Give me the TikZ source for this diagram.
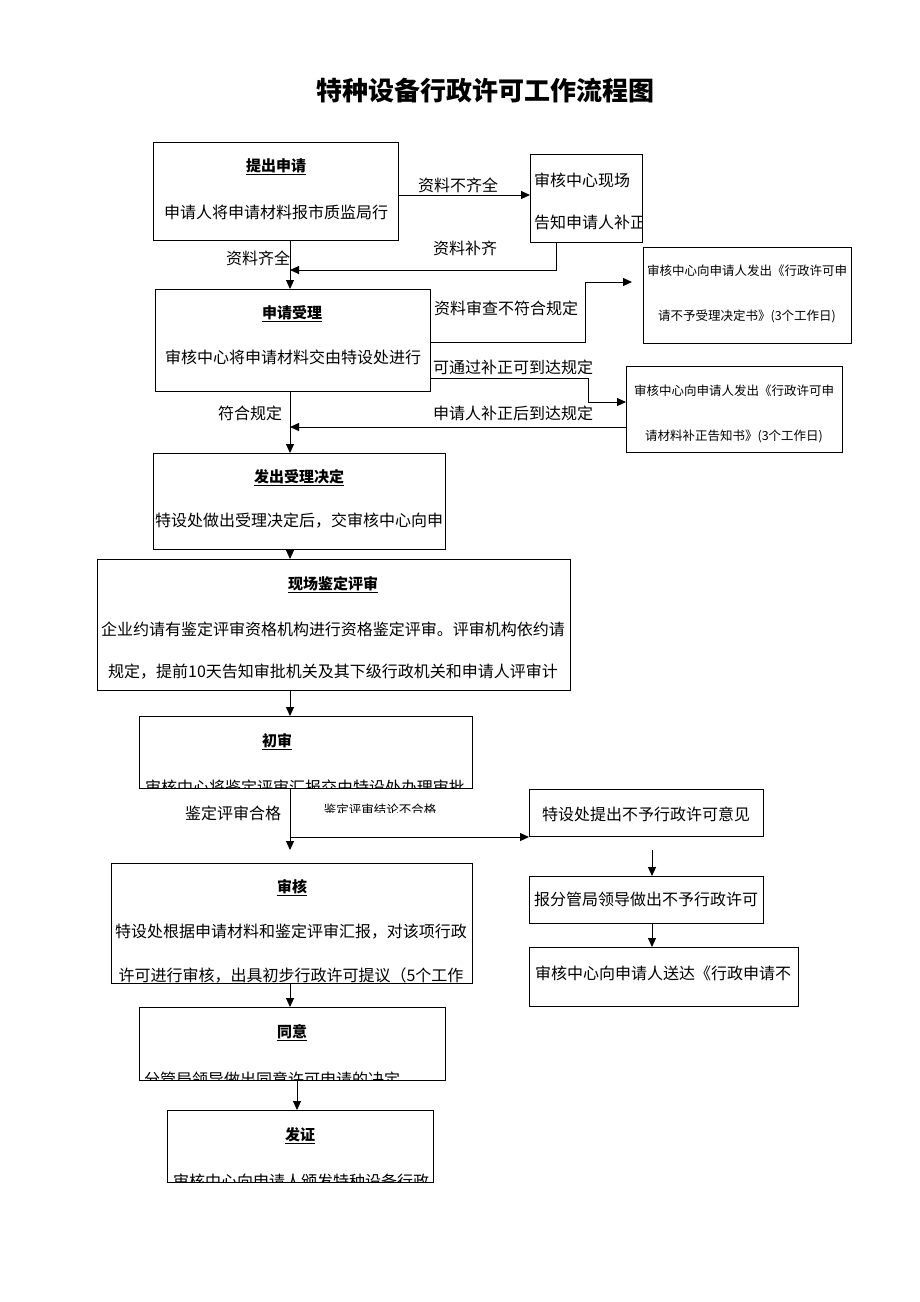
\documentclass[tikz,border=0pt]{standalone}
\usepackage{fontspec}
\setmainfont{Liberation Serif}
\newfontfamily\cjk{Noto Sans CJK SC}
\usetikzlibrary{arrows.meta}
\begin{document}
\begin{tikzpicture}[x=1pt,y=-1pt,
  box/.style={draw,line width=0.9pt},
  t/.style={font=\cjk\fontsize{16}{16}\selectfont,inner sep=0},
  s/.style={font=\cjk\fontsize{12.5}{13}\selectfont,inner sep=0},
  hd/.style={font=\cjk\fontsize{15}{15}\selectfont\bfseries,inner sep=0},
  ar/.style={line width=0.9pt,-{Triangle[length=9pt,width=8pt]}}]
\useasboundingbox (0,0) rectangle (920,1302);
\node[font=\cjk\fontsize{26}{26}\selectfont\bfseries] (title) at (485,91) {特种设备行政许可工作流程图};
\draw[box] (153,142) rectangle (398,240);
\node[hd] (b1h) at (276,167) {\underline{提出申请}};
\node[t] (b1t) at (276,212) {申请人将申请材料报市质监局行};
\draw[box] (530,154) rectangle (642,242);
\begin{scope}\clip (530,154) rectangle (642,242);
\node[t,anchor=west] (b2a) at (534,180) {审核中心现场};
\node[t,anchor=west] (b2b) at (534,222) {告知申请人补正};
\end{scope}
\draw[box] (155,289) rectangle (430,391);
\node[hd] (b3h) at (292,314) {\underline{申请受理}};
\node[t] (b3t) at (293,357) {审核中心将申请材料交由特设处进行};
\draw[box] (643,247) rectangle (851,343);
\node[s] (b4a) at (747,271) {审核中心向申请人发出《行政许可申};
\node[s] (b4b) at (747,316) {请不予受理决定书》(3个工作日)};
\draw[box] (626,366) rectangle (842,452);
\node[s] (b5a) at (734,391) {审核中心向申请人发出《行政许可申};
\node[s] (b5b) at (734,436) {请材料补正告知书》(3个工作日)};
\draw[box] (153,453) rectangle (445,549);
\node[hd] (b6h) at (299,478) {\underline{发出受理决定}};
\node[t] (b6t) at (299,521) {特设处做出受理决定后，交审核中心向申};
\draw[box] (97,559) rectangle (570,690);
\node[hd] (b7h) at (333,585) {\underline{现场鉴定评审}};
\node[t] (b7a) at (333,629) {企业约请有鉴定评审资格机构进行资格鉴定评审。评审机构依约请};
\node[t] (b7b) at (333,672) {规定，提前10天告知审批机关及其下级行政机关和申请人评审计};
\draw[box] (139,716) rectangle (472,788);
\node[hd] (b8h) at (277,742) {\underline{初审}};
\begin{scope}\clip (139,716) rectangle (472,788);
\node[t] (b8t) at (305,787) {审核中心将鉴定评审汇报交由特设处办理审批};
\end{scope}
\draw[box] (111,863) rectangle (472,983);
\node[hd] (b9h) at (292,888) {\underline{审核}};
\node[t] (b9a) at (291,932) {特设处根据申请材料和鉴定评审汇报，对该项行政};
\node[t] (b9b) at (291,975) {许可进行审核，出具初步行政许可提议（5个工作};
\draw[box] (139,1007) rectangle (445,1080);
\node[hd] (b10h) at (292,1033) {\underline{同意}};
\begin{scope}\clip (139,1007) rectangle (445,1080);
\node[t] (b10t) at (272,1079) {分管局领导做出同意许可申请的决定};
\end{scope}
\draw[box] (167,1110) rectangle (433,1182);
\node[hd] (b11h) at (300,1136) {\underline{发证}};
\begin{scope}\clip (167,1110) rectangle (433,1182);
\node[t] (b11t) at (301,1181) {审核中心向申请人颁发特种设备行政};
\end{scope}
\draw[box] (529,789) rectangle (763,836);
\node[t] (r1) at (646,814) {特设处提出不予行政许可意见};
\draw[box] (529,876) rectangle (763,923);
\node[t] (r2) at (646,899) {报分管局领导做出不予行政许可};
\draw[box] (529,947) rectangle (798,1006);
\node[t] (r3) at (663,973) {审核中心向申请人送达《行政申请不};
\coordinate (c1) at (398,195); \coordinate (c2) at (530,195);
\draw[ar] (c1) -- (c2);
\node[t] (l1) at (458,185) {资料不齐全};
\coordinate (c3) at (556,242); \coordinate (c4) at (290,270);
\draw[ar] (c3) |- (c4);
\node[t] (l2) at (465,248) {资料补齐};
\coordinate (m1) at (290,240); \coordinate (m2) at (290,289);
\draw[ar] (m1) -- (m2);
\node[t] (l3) at (258,258) {资料齐全};
\coordinate (d1) at (430,342); \coordinate (d2) at (585,282); \coordinate (d3) at (632,282);
\draw[ar] (d1) -| (d2) -- (d3);
\node[t] (l4) at (506,308) {资料审查不符合规定};
\coordinate (e1) at (430,378); \coordinate (e2) at (588,402); \coordinate (e3) at (626,402);
\draw[ar] (e1) -| (e2) -- (e3);
\node[t] (l5) at (513,367) {可通过补正可到达规定};
\coordinate (f1) at (626,427); \coordinate (f2) at (290,427);
\draw[ar] (f1) -- (f2);
\node[t] (l6) at (513,413) {申请人补正后到达规定};
\coordinate (m3) at (290,391); \coordinate (m4) at (290,453);
\draw[ar] (m3) -- (m4);
\node[t] (l7) at (250,413) {符合规定};
\coordinate (m5) at (290,549); \coordinate (m6) at (290,559);
\draw[ar] (m5) -- (m6);
\coordinate (m7) at (290,690); \coordinate (m8) at (290,716);
\draw[ar] (m7) -- (m8);
\coordinate (m9) at (290,788); \coordinate (m10) at (290,850); \coordinate (m11) at (290,837); \coordinate (m12) at (529,837);
\draw[ar] (m9) -- (m10);
\draw[ar] (m11) -- (m12);
\node[t] (l8) at (233,813) {鉴定评审合格};
\begin{scope}\clip (295,790) rectangle (470,812);
\node[s] (l9) at (380,810) {鉴定评审结论不合格};
\end{scope}
\coordinate (g1) at (652,850); \coordinate (g2) at (652,876);
\draw[ar] (g1) -- (g2);
\coordinate (g3) at (652,923); \coordinate (g4) at (652,947);
\draw[ar] (g3) -- (g4);
\coordinate (m13) at (290,983); \coordinate (m14) at (290,1007);
\draw[ar] (m13) -- (m14);
\coordinate (m15) at (297,1080); \coordinate (m16) at (297,1110);
\draw[ar] (m15) -- (m16);
\end{tikzpicture}
\end{document}
